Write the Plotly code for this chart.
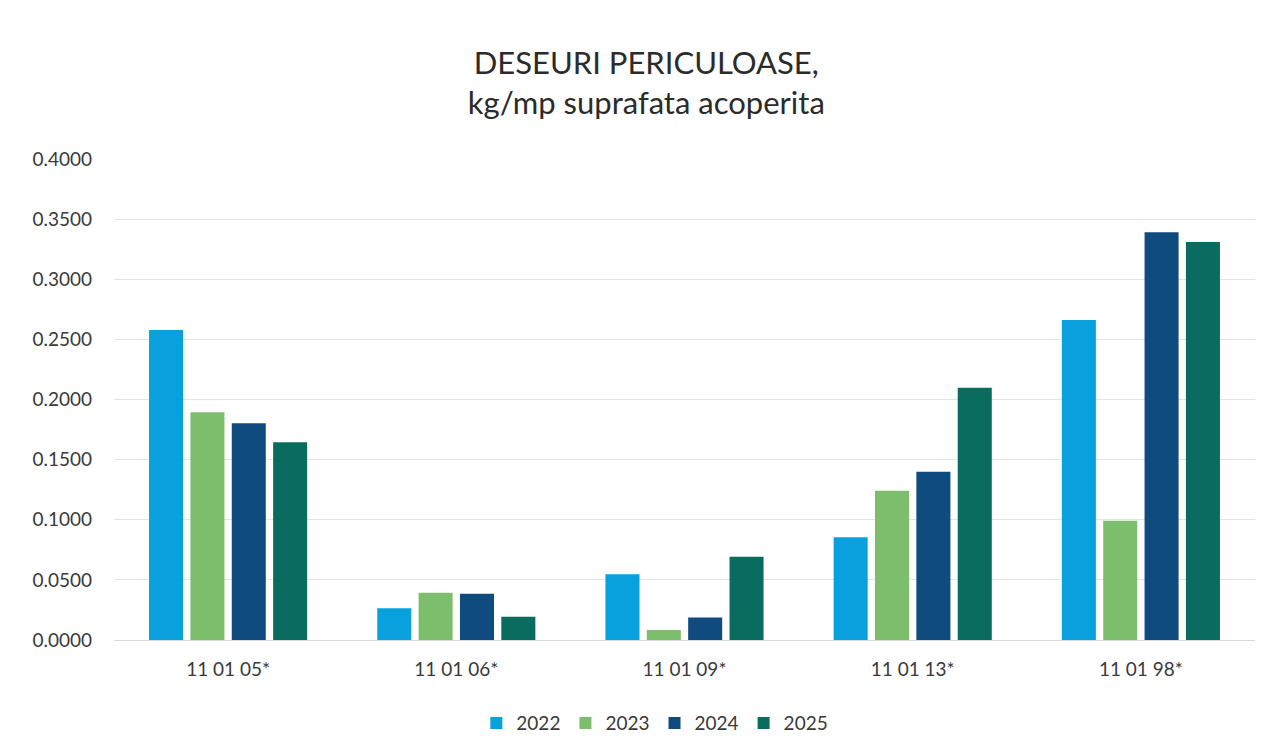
import plotly.graph_objects as go

categories = ["11 01 05*", "11 01 06*", "11 01 09*", "11 01 13*", "11 01 98*"]
years = ["2022", "2023", "2024", "2025"]
v2022 = [0.2578, 0.0264, 0.0546, 0.0854, 0.2661]
v2023 = [0.1894, 0.0393, 0.0083, 0.1242, 0.0992]
v2024 = [0.1802, 0.0385, 0.0188, 0.1400, 0.3390]
v2025 = [0.1644, 0.0194, 0.0693, 0.2098, 0.3310]
y_ticks = [0.0, 0.05, 0.10, 0.15, 0.20, 0.25, 0.30, 0.35, 0.40]

series = [v2022, v2023, v2024, v2025]
colors = ["#08A1DE", "#7DBE6C", "#104B80", "#0A6C5E"]

FONT = "Lato, 'Open Sans', sans-serif"
fig = go.Figure()
for name, vals, col in zip(years, series, colors):
    fig.add_trace(go.Bar(x=categories, y=vals, name=name, marker_color=col,
                         marker_line_width=0))

fig.update_layout(
    width=1264, height=747,
    paper_bgcolor="white", plot_bgcolor="white",
    margin=dict(l=106, r=17, t=151, b=115),
    barmode="group", bargap=0.275, bargroupgap=0.177,
    font=dict(family=FONT, color="#3a3a3a", size=19),
    title=dict(text="DESEURI PERICULOASE,<br>kg/mp suprafata acoperita",
               x=0.505, xanchor="center", y=0.912, yanchor="middle",
               font=dict(family=FONT, size=31, color="#2b2b2b")),
    legend=dict(orientation="h", x=0.474, xanchor="center", y=-0.173, yanchor="middle",
                font=dict(size=19, color="#3a3a3a"), itemwidth=30, traceorder="normal"),
    showlegend=True,
)
fig.update_yaxes(range=[0, 0.4], tickvals=y_ticks, tickformat=".4f",
                 showgrid=True, gridcolor="#E3E3E3", gridwidth=1,
                 zeroline=True, zerolinecolor="#D9D9D9", zerolinewidth=1,
                 showline=False, ticks="", ticklabelstandoff=21,
                 tickfont=dict(size=19, color="#3a3a3a"))
fig.update_xaxes(showline=True, linecolor="#D9D9D9", linewidth=1, ticks="",
                 ticklabelstandoff=12, tickfont=dict(size=19, color="#3a3a3a"))

fig.write_html("out.html")
